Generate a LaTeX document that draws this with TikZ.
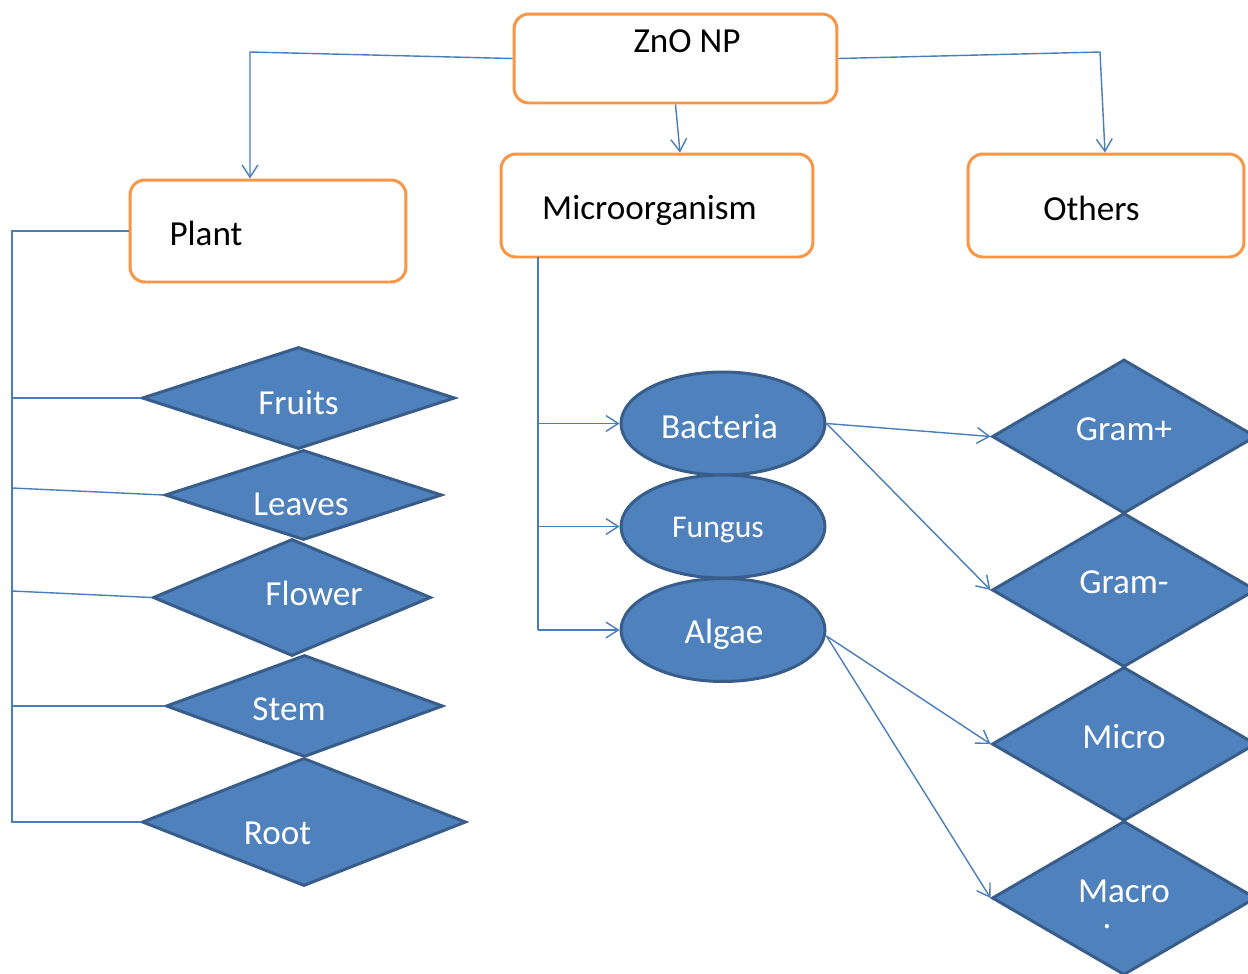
\documentclass[tikz,border=0pt]{standalone}
\usepackage{fontspec}
\setmainfont{Carlito}
\usetikzlibrary{shapes.geometric,arrows.meta,calc}
\definecolor{boxorange}{HTML}{F79646}
\definecolor{shapefill}{HTML}{4F81BD}
\definecolor{shapeedge}{HTML}{385D8A}
\definecolor{linkblue}{HTML}{4A7EBB}

\begin{document}
\begin{tikzpicture}[x=0.02cm, y=-0.02cm,
    box/.style={draw=boxorange, line width=1.7pt, rounded corners=0.3cm, fill=white},
    diam/.style={diamond, draw=shapeedge, fill=shapefill, line width=1.7pt, inner sep=0pt},
    oval/.style={ellipse, draw=shapeedge, fill=shapefill, line width=1.7pt, inner sep=0pt,
                 minimum width=4.08cm, minimum height=2.06cm},
    txt/.style={font=\fontsize{20}{24}\selectfont, text height=13pt, text depth=0pt, inner sep=0pt},
    link/.style={draw=linkblue, line width=0.8pt},
    arr/.style={link, -{Straight Barb[length=7pt,width=9pt]}}]
  \useasboundingbox (0,0) rectangle (1248,974);
  \clip (0,0) rectangle (1248,974);
  \fill[white] (0,0) rectangle (1248,974);

  % top level boxes
  \node[box, minimum width=6.46cm, minimum height=1.78cm,
        label={[txt,xshift=0.23cm,yshift=0.34cm]center:ZnO NP}] (zno) at (675.5,58.5) {};
  \node[box, minimum width=5.52cm, minimum height=2.04cm,
        label={[txt,xshift=-1.24cm,yshift=-0.06cm]center:Plant}] (plant) at (268,231) {};
  \node[box, minimum width=6.24cm, minimum height=2.06cm,
        label={[txt,xshift=-0.15cm,yshift=-0.05cm]center:Microorganism}] (microorg) at (657,205.5) {};
  \node[box, minimum width=5.52cm, minimum height=2.06cm,
        label={[txt,xshift=-0.29cm,yshift=-0.08cm]center:Others}] (others) at (1106,205.5) {};

  % plant parts
  \foreach \n/\t/\x/\y/\w/\h/\dx/\dy in {fruits/Fruits/298.5/398/6.26/2.04/0/-0.11,
      leaves/Leaves/303.5/495/5.54/1.8/-0.05/-0.18, flower/Flower/292/597.5/5.56/2.34/0.44/0.07,
      stem/Stem/304.5/706/5.54/2.04/-0.31/-0.06, root/Root/304/822/6.48/2.56/-0.53/-0.22}
    \node[diam, minimum width=\w cm, minimum height=\h cm,
          label={[txt,text=white,xshift=\dx cm,yshift=\dy cm]center:\t}] (\n) at (\x,\y) {};

  % microorganisms
  \foreach \n/\t/\y/\fs/\dx/\dy in {bact/Bacteria/423.5/20/-0.07/-0.08,
      fungus/Fungus/526.5/18/-0.1/0, algae/Algae/630/20/0.02/-0.05}
    \node[oval, label={[txt,text=white,font=\fontsize{\fs}{24}\selectfont,
          xshift=\dx cm,yshift=\dy cm]center:\t}] (\n) at (723,\y) {};

  % groups
  \foreach \n/\t/\y/\dy in {gramp/Gram+/436.5/0.15, gramm/Gram-/590/0.16, micro/Micro/744/0.14}
    \node[diam, minimum width=5.28cm, minimum height=3.08cm,
          label={[txt,text=white,yshift=\dy cm]center:\t}] (\n) at (1124,\y) {};
  \node[diam, minimum width=5.28cm, minimum height=3.08cm,
        label={[txt,text=white,yshift=0.14cm]center:Macro},
        label={[txt,text=white,text height=2pt,xshift=-0.34cm,yshift=-0.58cm]center:.}] (macro) at (1124,898) {};

  % connectors
  \coordinate (zl) at (250,52);
  \coordinate (zr) at (1100,52);
  \draw[arr] (zno.west) -- (zl) -- (zl |- plant.north);
  \draw[arr] (zno.south) -- ([xshift=0.46cm]microorg.north);
  \draw[arr] (zno.east) -- (zr) -- ([xshift=-0.02cm]others.north);

  \coordinate (pbus) at (12,231);
  \draw[link] (plant.west) -- (pbus) -- (pbus |- root.west) -- (root.west);
  \foreach \n/\s in {fruits/0, leaves/-7, flower/-6.5, stem/0}
    \draw[link] ($(pbus |- \n.west)+(0,\s)$) -- (\n.west);

  \coordinate (mbus) at (538,257);
  \draw[link] (mbus) -- (mbus |- algae.west);
  \foreach \n in {bact, fungus, algae}
    \draw[arr] (mbus |- \n.west) -- (\n.west);

  \draw[arr] (bact.east) -- (gramp.west);
  \draw[arr] (bact.east) -- (gramm.west);
  \draw[arr] ([yshift=-0.12cm]algae.east) -- (micro.west);
  \draw[arr] ([yshift=-0.12cm]algae.east) -- (macro.west);
\end{tikzpicture}
\end{document}
